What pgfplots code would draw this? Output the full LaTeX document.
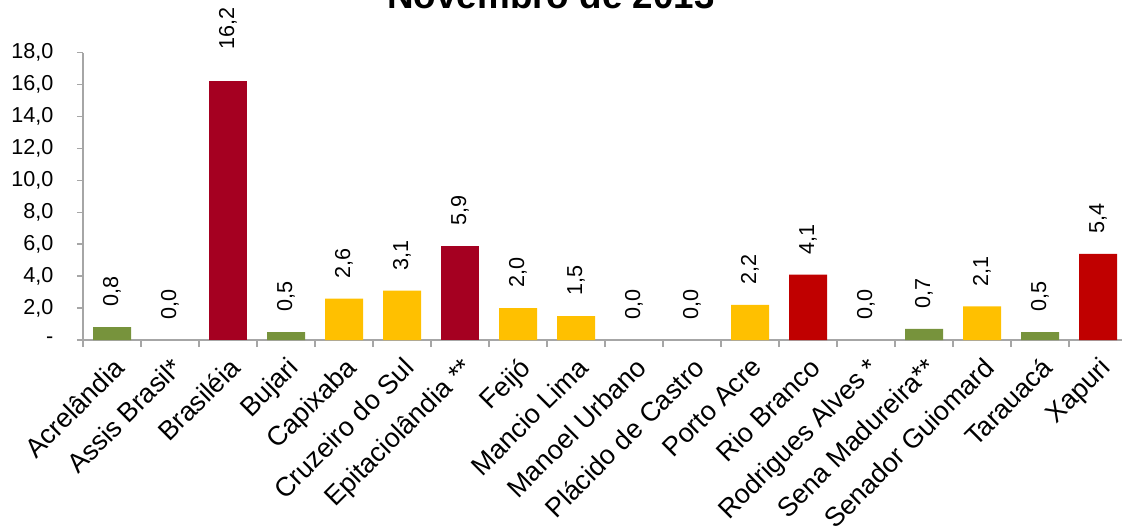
\documentclass[border=0pt]{standalone}
\usepackage{fontspec}
\setmainfont{Liberation Sans}
\usepackage{pgfplots}
\pgfplotsset{compat=1.18}

\definecolor{axgray}{RGB}{166,166,166}
\definecolor{cgreen}{RGB}{119,147,60}
\definecolor{cyellow}{RGB}{255,192,0}
\definecolor{ccrimson}{RGB}{165,0,33}
\definecolor{cred}{RGB}{192,0,0}

\begin{document}
\begin{tikzpicture}
\begin{axis}[
  at={(0,0)}, anchor=south west,
  scale only axis,
  width=522pt, height=143.65pt,
  ybar, bar width=19pt,
  xmin=-0.5, xmax=17.5,
  ymin=0, ymax=18,
  enlargelimits=false,
  clip=false,
  axis x line*=bottom, axis y line*=left,
  axis line style={draw=axgray, line width=0.75pt},
  tick align=outside,
  xtick={0,...,17},
  major x tick style={draw=none},
  minor xtick={-0.5,0.5,...,17.5},
  minor x tick style={draw=axgray, line width=0.75pt, /pgfplots/minor tick length=3.5pt},
  ytick={0,2,...,18},
  y tick style={draw=axgray, line width=0.75pt, /pgfplots/major tick length=3pt},
  yticklabels={-,{2,0},{4,0},{6,0},{8,0},{10,0},{12,0},{14,0},{16,0},{18,0}},
  xticklabels={Acrelândia, Assis Brasil*, Brasiléia, Bujari, Capixaba,
    Cruzeiro do Sul, Epitaciolândia **, Feijó, Mancio Lima, Manoel Urbano,
    Plácido de Castro, Porto Acre, Rio Branco, Rodrigues Alves *,
    Sena Madureira**, Senador Guiomard, Tarauacá, Xapuri},
  yticklabel style={font=\fontsize{10.8}{13}\selectfont, xshift=-7pt},
  xticklabel style={font=\fontsize{13.4}{16}\selectfont, anchor=north east,
    inner sep=1pt, xshift=0pt, yshift=-2pt, rotate=45},
  /pgf/number format/assume math mode=true,
  /pgf/number format/use comma,
  /pgf/number format/fixed,
  /pgf/number format/fixed zerofill,
  /pgf/number format/precision=1,
  nodes near coords,
  every node near coord/.append style={rotate=90, anchor=west,
    inner xsep=10pt, font=\fontsize{10.8}{13}\selectfont, text=black},
]
% verde
\addplot[fill=cgreen, draw=none, bar shift=0pt] coordinates {
(0,0.8) (3,0.5) (14,0.7) (16,0.5)
};
% amarelo
\addplot[fill=cyellow, draw=none, bar shift=0pt] coordinates {
(4,2.6) (5,3.1) (7,2.0) (8,1.5) (11,2.2) (15,2.1)
};
% vinho
\addplot[fill=ccrimson, draw=none, bar shift=0pt] coordinates {
(6,5.9)
};
\addplot[fill=ccrimson, draw=none, bar shift=0pt,
  every node near coord/.append style={inner xsep=16pt}] coordinates {
(2,16.2)
};
% vermelho
\addplot[fill=cred, draw=none, bar shift=0pt] coordinates {
(12,4.1) (17,5.4)
};
% zero
\addplot[fill=none, draw=none, bar shift=0pt] coordinates {
(1,0) (9,0) (10,0) (13,0)
};
\end{axis}
\node[anchor=base, font=\bfseries\fontsize{18.4}{22}\selectfont] at (234pt,166pt) {Novembro de 2013};
\pgfresetboundingbox
\useasboundingbox (-41.5pt,-93.5pt) rectangle (519.5pt,170pt);
\end{tikzpicture}
\end{document}
